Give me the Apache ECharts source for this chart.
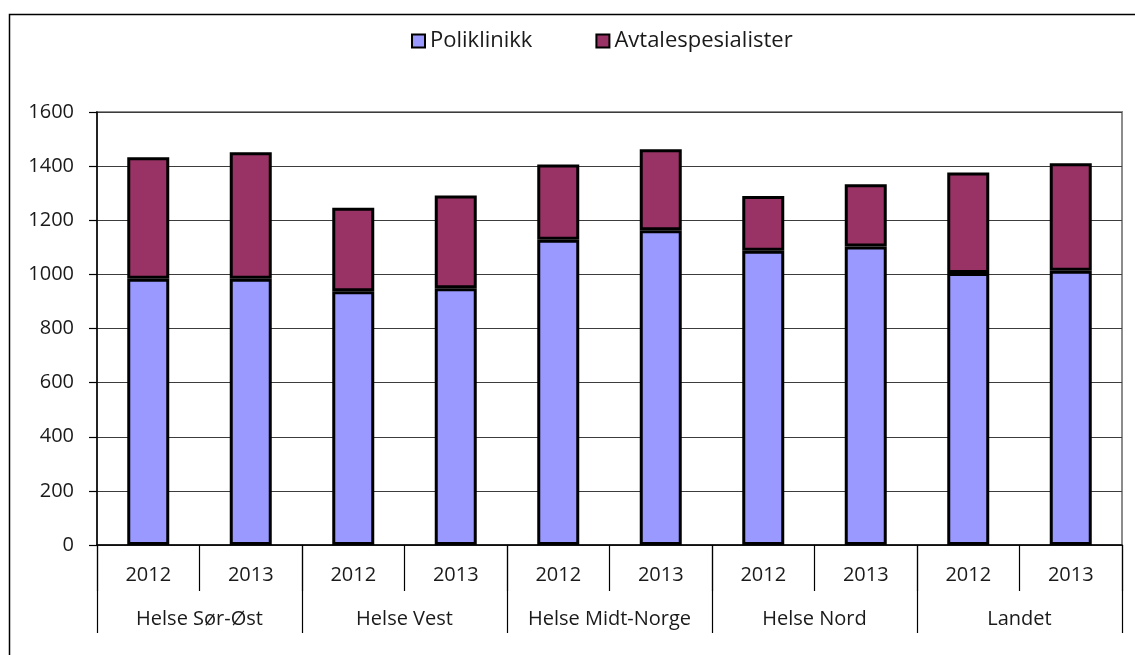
<!DOCTYPE html>
<html>
<head>
<meta charset="utf-8">
<script src="https://cdn.jsdelivr.net/npm/echarts@6/dist/echarts.min.js"></script>
<style>
  html, body { margin: 0; padding: 0; background: #fff; }
  #chart { width: 1135px; height: 655px; }
</style>
</head>
<body>
<div id="chart"></div>
<script>
const years = ['2012', '2013', '2012', '2013', '2012', '2013', '2012', '2013', '2012', '2013'];
const regions = ['Helse Sør-Øst', 'Helse Vest', 'Helse Midt-Norge', 'Helse Nord', 'Landet'];
const poliklinikk = [984, 984, 938, 949, 1128, 1163, 1087, 1103, 1005, 1013];
const avtalespesialister = [449, 467, 308, 342, 278, 299, 203, 230, 371, 398];
const yTicks = { min: 0, max: 1600, interval: 200 };

const font = '"Open Sans", Lato, sans-serif';
const textColor = '#1a1a1a';

const chart = echarts.init(document.getElementById('chart'));

chart.setOption({
  animation: false,
  textStyle: { fontFamily: font },
  graphic: [{
    type: 'rect',
    left: 7, top: 12,
    shape: { width: 1140, height: 660 },
    style: { fill: 'none', stroke: '#000', lineWidth: 1.5 },
    silent: true
  }],
  legend: {
    top: 25,
    left: 406,
    itemWidth: 13,
    itemHeight: 13,
    itemGap: 63,
    icon: 'rect',
    textStyle: { fontSize: 22, color: textColor, fontFamily: font },
    itemStyle: { borderColor: '#000', borderWidth: 2 },
    data: ['Poliklinikk', 'Avtalespesialister']
  },
  grid: {
    left: 97, right: 13, top: 112, bottom: 110,
    show: true,
    borderColor: '#8c8c8c',
    borderWidth: 2
  },
  xAxis: [
    {
      type: 'category',
      data: years,
      position: 'bottom',
      axisLine: { show: true, lineStyle: { color: '#000', width: 1.5 } },
      axisTick: { show: true, interval: 0, length: 46, lineStyle: { color: '#000', width: 1.2 } },
      axisLabel: { interval: 0, margin: 20, fontSize: 20, color: textColor }
    },
    {
      type: 'category',
      data: regions,
      position: 'bottom',
      axisLine: { show: false },
      axisTick: { show: true, interval: 0, length: 88, lineStyle: { color: '#000', width: 1.2 } },
      axisLabel: { interval: 0, margin: 64, fontSize: 20, color: textColor }
    }
  ],
  yAxis: {
    type: 'value',
    min: yTicks.min,
    max: yTicks.max,
    interval: yTicks.interval,
    axisLine: { show: true, lineStyle: { color: '#000', width: 1.5 } },
    axisTick: { show: true, inside: false, length: 8, lineStyle: { color: '#000', width: 1.2 } },
    axisLabel: { margin: 23, fontSize: 20, color: textColor, formatter: v => String(v) },
    splitLine: { show: true, lineStyle: { color: '#3c3c3c', width: 1.2 } }
  },
  series: [
    {
      name: 'Poliklinikk',
      type: 'bar',
      stack: 'total',
      barWidth: 42,
      data: poliklinikk,
      itemStyle: { color: '#9999ff', borderColor: '#000', borderWidth: 3 }
    },
    {
      name: 'Avtalespesialister',
      type: 'bar',
      stack: 'total',
      barWidth: 42,
      data: avtalespesialister,
      itemStyle: { color: '#993366', borderColor: '#000', borderWidth: 3 }
    }
  ]
});
</script>
</body>
</html>
